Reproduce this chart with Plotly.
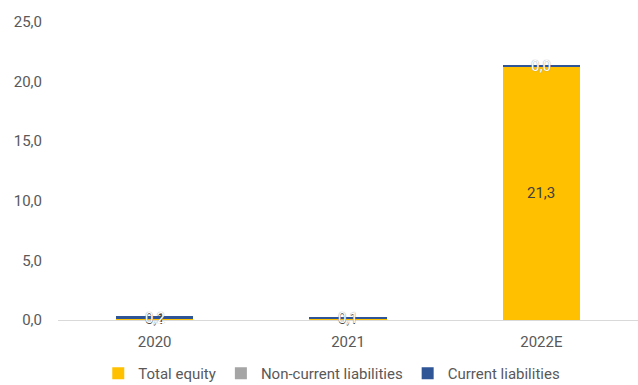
import plotly.graph_objects as go

years = ["2020", "2021", "2022E"]
total_equity = [0.1, 0.1, 21.3]
non_current_liabilities = [0.0, 0.0, 0.0]
current_liabilities = [0.2, 0.1, 0.04]
y_ticks = [0, 5, 10, 15, 20, 25]

FONT = "Roboto, Arial, sans-serif"
GREY_TEXT = "#595959"

fig = go.Figure()
fig.add_bar(x=years, y=total_equity, name="Total equity", marker_color="#FFC000")
fig.add_bar(x=years, y=non_current_liabilities, name="Non-current liabilities", marker_color="#A5A5A5")
fig.add_bar(x=years, y=current_liabilities, name="Current liabilities", marker_color="#2F5597")
fig.update_traces(marker_line_width=0)


def fmt(v):
    return f"{v:.1f}".replace(".", ",")


# value labels centred on the equity and current-liability segments
# (x given as category index so year strings are not read as positions)
for i in range(len(years)):
    eq = total_equity[i]
    nc = non_current_liabilities[i]
    cl = current_liabilities[i]
    fig.add_annotation(x=i, y=eq / 2, text=fmt(eq), showarrow=False,
                       font=dict(family=FONT, size=15, color="#404040"))
    fig.add_annotation(x=i, y=eq + nc + cl / 2, text=fmt(cl), showarrow=False,
                       font=dict(family=FONT, size=15, color="#FFFFFF",
                                 shadow="0px 0px 1px #7F7F7F"))

fig.update_layout(
    barmode="stack",
    bargap=0.6,
    width=638,
    height=385,
    margin=dict(l=58, r=0, t=22, b=65, autoexpand=False),
    paper_bgcolor="white",
    plot_bgcolor="white",
    font=dict(family=FONT, size=15, color=GREY_TEXT),
    showlegend=True,
    legend=dict(orientation="h", x=0.472, xanchor="center", y=-0.235, yanchor="bottom",
                font=dict(size=15, color=GREY_TEXT), itemwidth=30,
                traceorder="normal"),
)
fig.update_xaxes(type="category", range=[-0.5, 2.5], showgrid=False, showline=True,
                 linecolor="#D9D9D9", linewidth=1, ticklabelstandoff=8,
                 ticks="", tickfont=dict(size=15, color=GREY_TEXT))
fig.update_yaxes(range=[0, 25], tickvals=y_ticks,
                 ticktext=[fmt(v) for v in y_ticks],
                 showgrid=False, zeroline=False, showline=False,
                 ticklabelstandoff=15,
                 tickfont=dict(size=15, color=GREY_TEXT))

fig.write_html("out.html")
